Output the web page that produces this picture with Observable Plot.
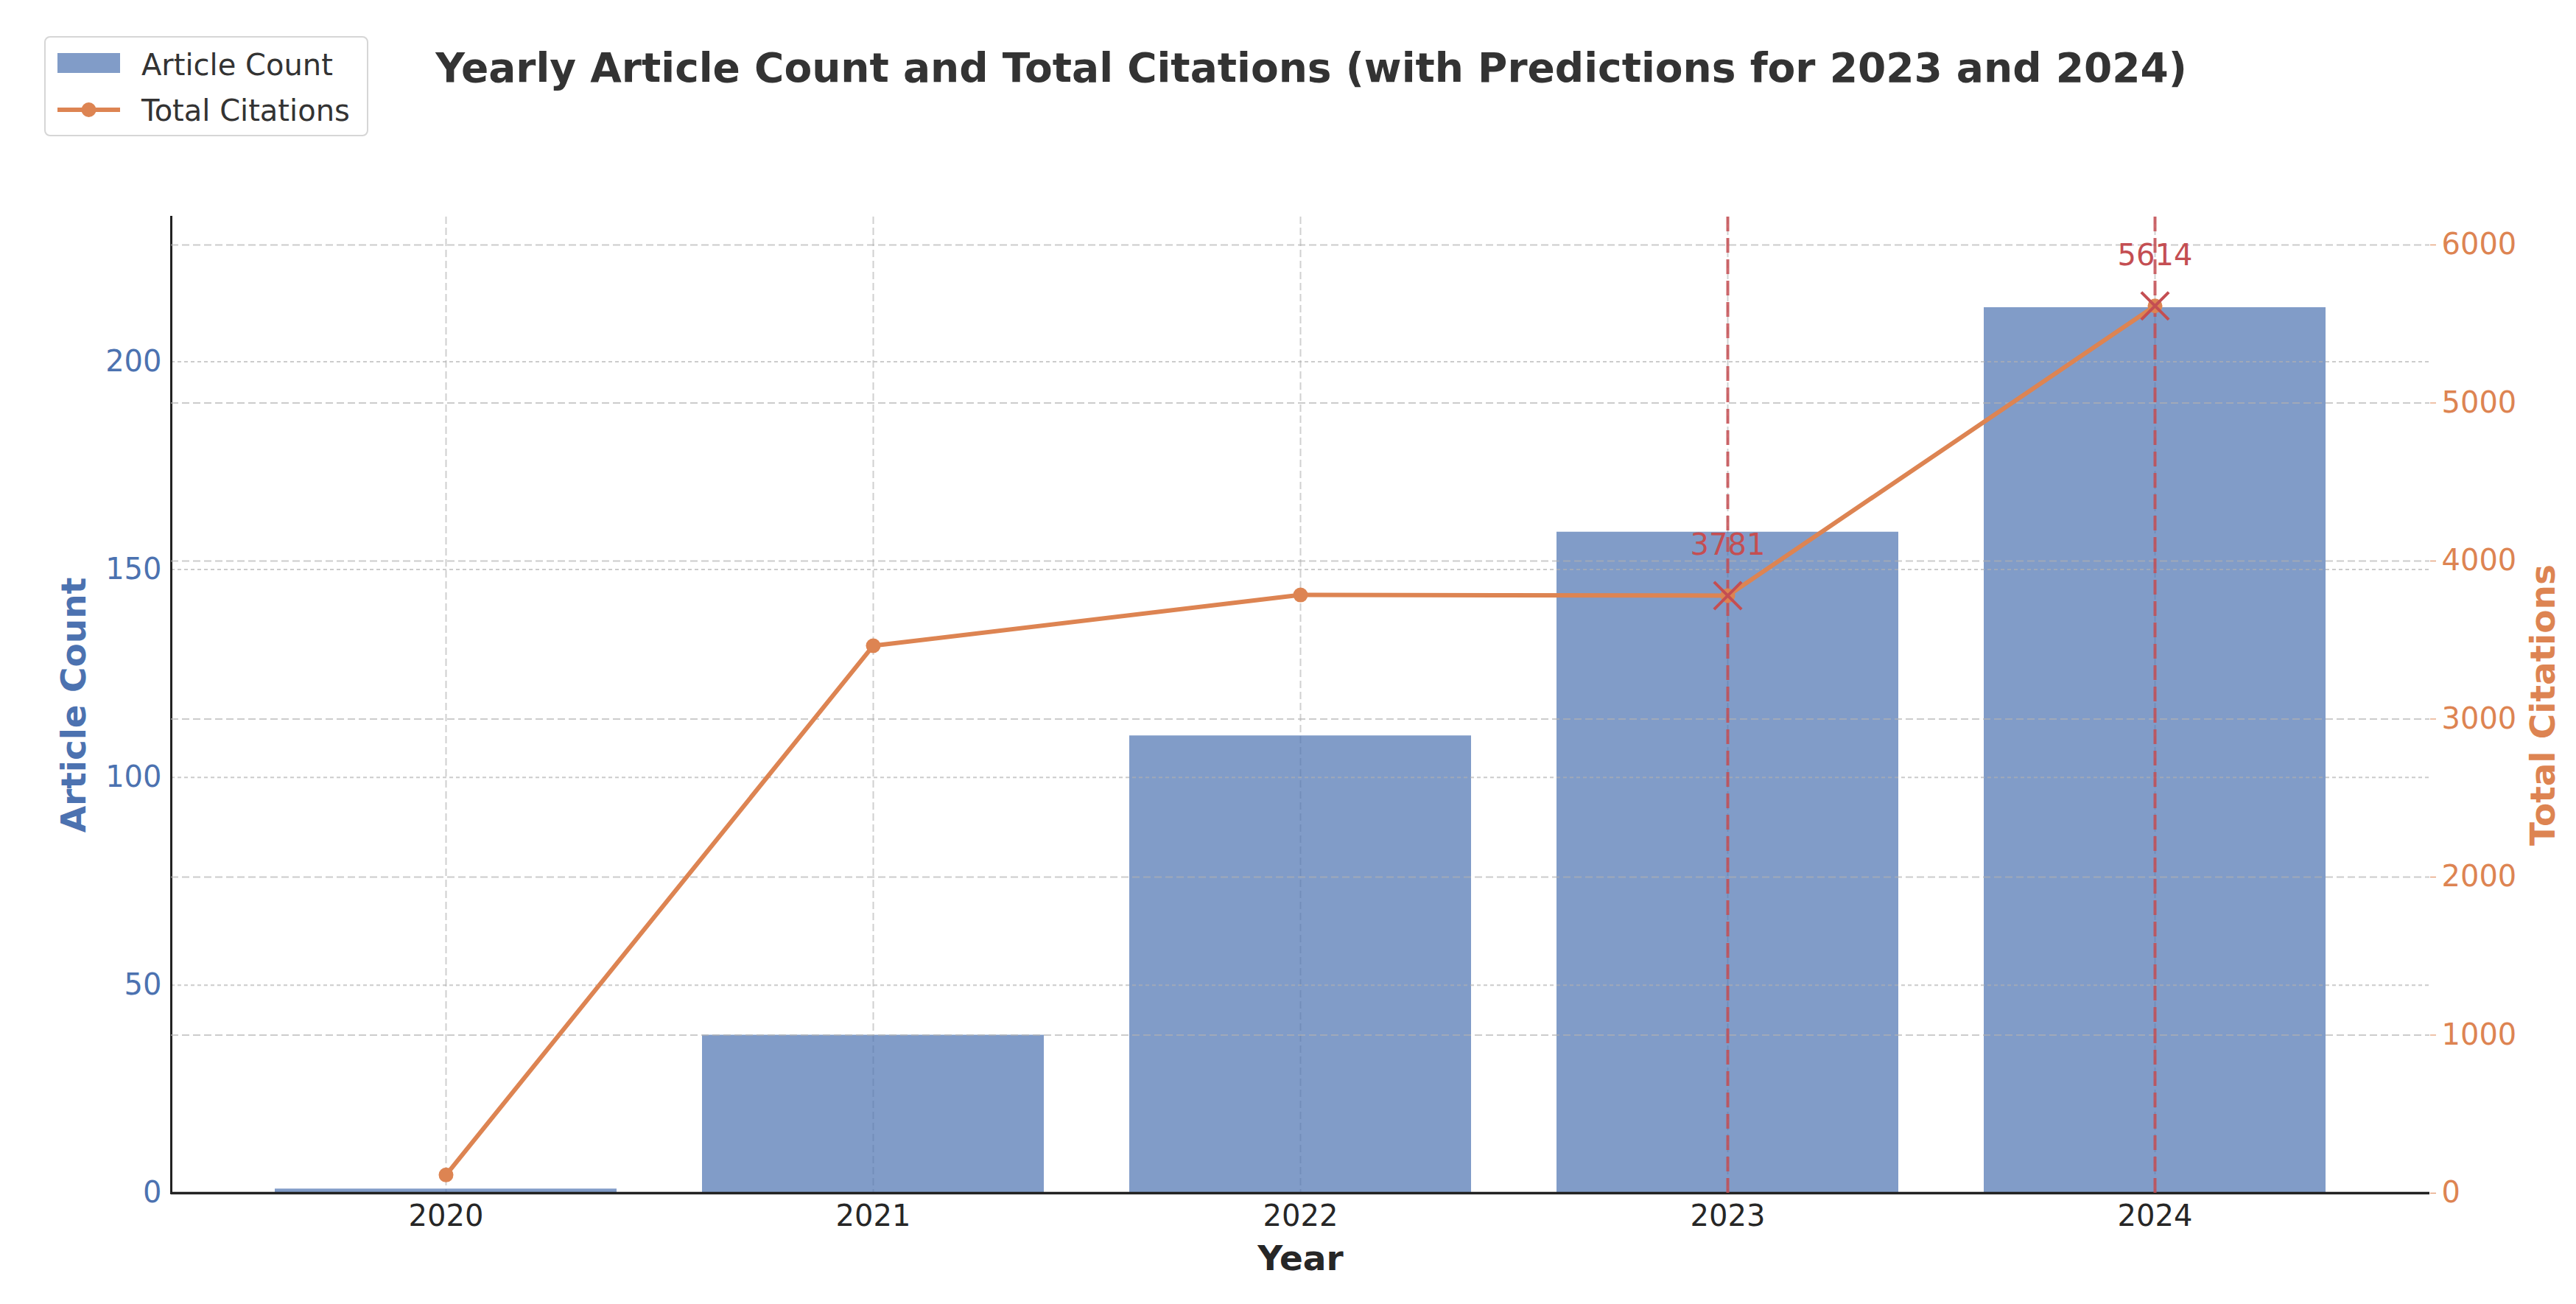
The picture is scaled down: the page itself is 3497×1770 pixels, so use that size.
<!DOCTYPE html>
<html>
<head>
<meta charset="utf-8">
<script src="https://cdn.jsdelivr.net/npm/d3@7"></script>
<script src="https://cdn.jsdelivr.net/npm/@observablehq/plot@0.6"></script>
<style>
  html, body { margin: 0; padding: 0; background: #fff; }
  #wrap { position: relative; width: 3497px; height: 1770px; font-family: "DejaVu Sans", sans-serif; overflow: hidden; }
  #wrap > svg { position: absolute; left: 0; top: 0; }
  #title { position: absolute; top: 65px; left: 1780px; transform: translateX(-50%); white-space: nowrap;
           font: bold 55px/1 "DejaVu Sans", sans-serif; color: #333; }
  #legend { position: absolute; left: 60px; top: 49px; width: 440px; height: 136px; box-sizing: border-box;
            border: 2px solid #d6d6d6; border-radius: 8px; background: rgba(255,255,255,0.85); z-index: 5; }
  #legend .lab { position: absolute; left: 130px; font: 40px/1 "DejaVu Sans", sans-serif; color: #333; white-space: nowrap; }
  #legend svg { position: absolute; left: 14px; }
</style>
</head>
<body>
<div id="wrap"></div>
<script>
// ---- data ----
const years = [2020, 2021, 2022, 2023, 2024];
const articleCounts = [1, 38, 110, 159, 213];
const totalCitations = [115, 3464, 3785, 3781, 5614];
const predictedYears = [2023, 2024];
const countTicks = [0, 50, 100, 150, 200];
const citationTicks = [0, 1000, 2000, 3000, 4000, 5000, 6000];
const countDomain = [0, 234.8];
const citationDomain = [0, 6177];
const seriesNames = ["Article Count", "Total Citations"];
const titleText = "Yearly Article Count and Total Citations (with Predictions for 2023 and 2024)";
const xLabel = "Year";

// ---- derived table ----
const rows = years.map((year, i) => ({year, count: articleCounts[i], citations: totalCitations[i]}));
const predRows = rows.filter(d => predictedYears.includes(d.year));

const BLUE = "#4c72b0", ORANGE = "#dd8452", RED = "#c44e52", GRID = "#b0b0b0";
const W = 3497, H = 1770;
const frame = {width: W, height: H, marginTop: 294, marginBottom: 151, marginLeft: 232, marginRight: 199};
const xScale = {type: "band", domain: years, paddingInner: 0.2, paddingOuter: 0.24, align: 0.5, axis: null};
const font = "DejaVu Sans";
const plain = d => String(d);

const plotCounts = Plot.plot({
  ...frame,
  style: {fontFamily: font, background: "transparent", overflow: "visible"},
  x: xScale,
  y: {domain: countDomain, axis: null},
  marks: [
    Plot.gridX(years, {stroke: GRID, strokeOpacity: 0.6, strokeWidth: 2, strokeDasharray: "10,5"}),
    Plot.barY(rows, {x: "year", y: "count", fill: BLUE, fillOpacity: 0.7}),
    Plot.gridY(countTicks, {stroke: GRID, strokeOpacity: 0.65, strokeWidth: 2, strokeDasharray: "5,4"}),
    Plot.axisY(countTicks, {anchor: "left", tickSize: 0, tickPadding: 13, fontSize: 40, fill: BLUE, tickFormat: plain, label: null}),
    Plot.axisX(years, {anchor: "bottom", tickSize: 0, tickPadding: 16, fontSize: 40, fill: "#262626", tickFormat: plain, label: null}),
    Plot.frame({anchor: "left", stroke: "#222", strokeWidth: 3}),
    Plot.text([seriesNames[0]], {text: d => d, frameAnchor: "left", textAnchor: "middle", dx: -132, rotate: -90, fontSize: 47, fontWeight: "bold", fill: BLUE}),
    Plot.text([xLabel], {text: d => d, frameAnchor: "bottom", textAnchor: "middle", dy: 104, fontSize: 47, fontWeight: "bold", fill: "#262626"})
  ]
});

const plotCitations = Plot.plot({
  ...frame,
  style: {fontFamily: font, background: "transparent", overflow: "visible"},
  x: xScale,
  y: {domain: citationDomain, axis: null},
  marks: [
    Plot.gridY(citationTicks, {stroke: GRID, strokeOpacity: 0.65, strokeWidth: 2, strokeDasharray: "10,5"}),
    Plot.ruleY([0], {stroke: "#222", strokeWidth: 3.5}),
    Plot.ruleX(predictedYears, {x: d => d, stroke: RED, strokeOpacity: 0.85, strokeWidth: 4, strokeDasharray: "20,9"}),
    Plot.line(rows, {x: "year", y: "citations", stroke: ORANGE, strokeWidth: 6}),
    Plot.dot(rows, {x: "year", y: "citations", r: 10, fill: ORANGE}),
    Plot.dot(predRows, {x: "year", y: "citations", symbol: "times", r: 17, stroke: RED, strokeWidth: 4}),
    Plot.text(predRows, {x: "year", y: "citations", text: d => String(d.citations), dy: -68, fontSize: 40, fill: RED}),
    Plot.axisY(citationTicks, {anchor: "right", tickSize: 8, tickPadding: 8, fontSize: 40, color: ORANGE, tickFormat: plain, label: null}),
    Plot.text([seriesNames[1]], {text: d => d, frameAnchor: "right", textAnchor: "middle", dx: 154, rotate: -90, fontSize: 47, fontWeight: "bold", fill: ORANGE})
  ]
});

const wrap = document.getElementById("wrap");
wrap.appendChild(plotCounts);
wrap.appendChild(plotCitations);

const title = document.createElement("div");
title.id = "title";
title.textContent = titleText;
wrap.appendChild(title);

// legend
const legend = document.createElement("div");
legend.id = "legend";
legend.innerHTML = `
  <svg width="90" height="30" style="top:20px"><rect x="2" y="1" width="85" height="27" fill="${BLUE}" fill-opacity="0.7"/></svg>
  <div class="lab" style="top:17px">${seriesNames[0]}</div>
  <svg width="90" height="30" style="top:83px"><line x1="2" x2="87" y1="15" y2="15" stroke="${ORANGE}" stroke-width="6"/><circle cx="44.5" cy="15" r="10" fill="${ORANGE}"/></svg>
  <div class="lab" style="top:79px">${seriesNames[1]}</div>`;
wrap.appendChild(legend);
</script>
</body>
</html>
